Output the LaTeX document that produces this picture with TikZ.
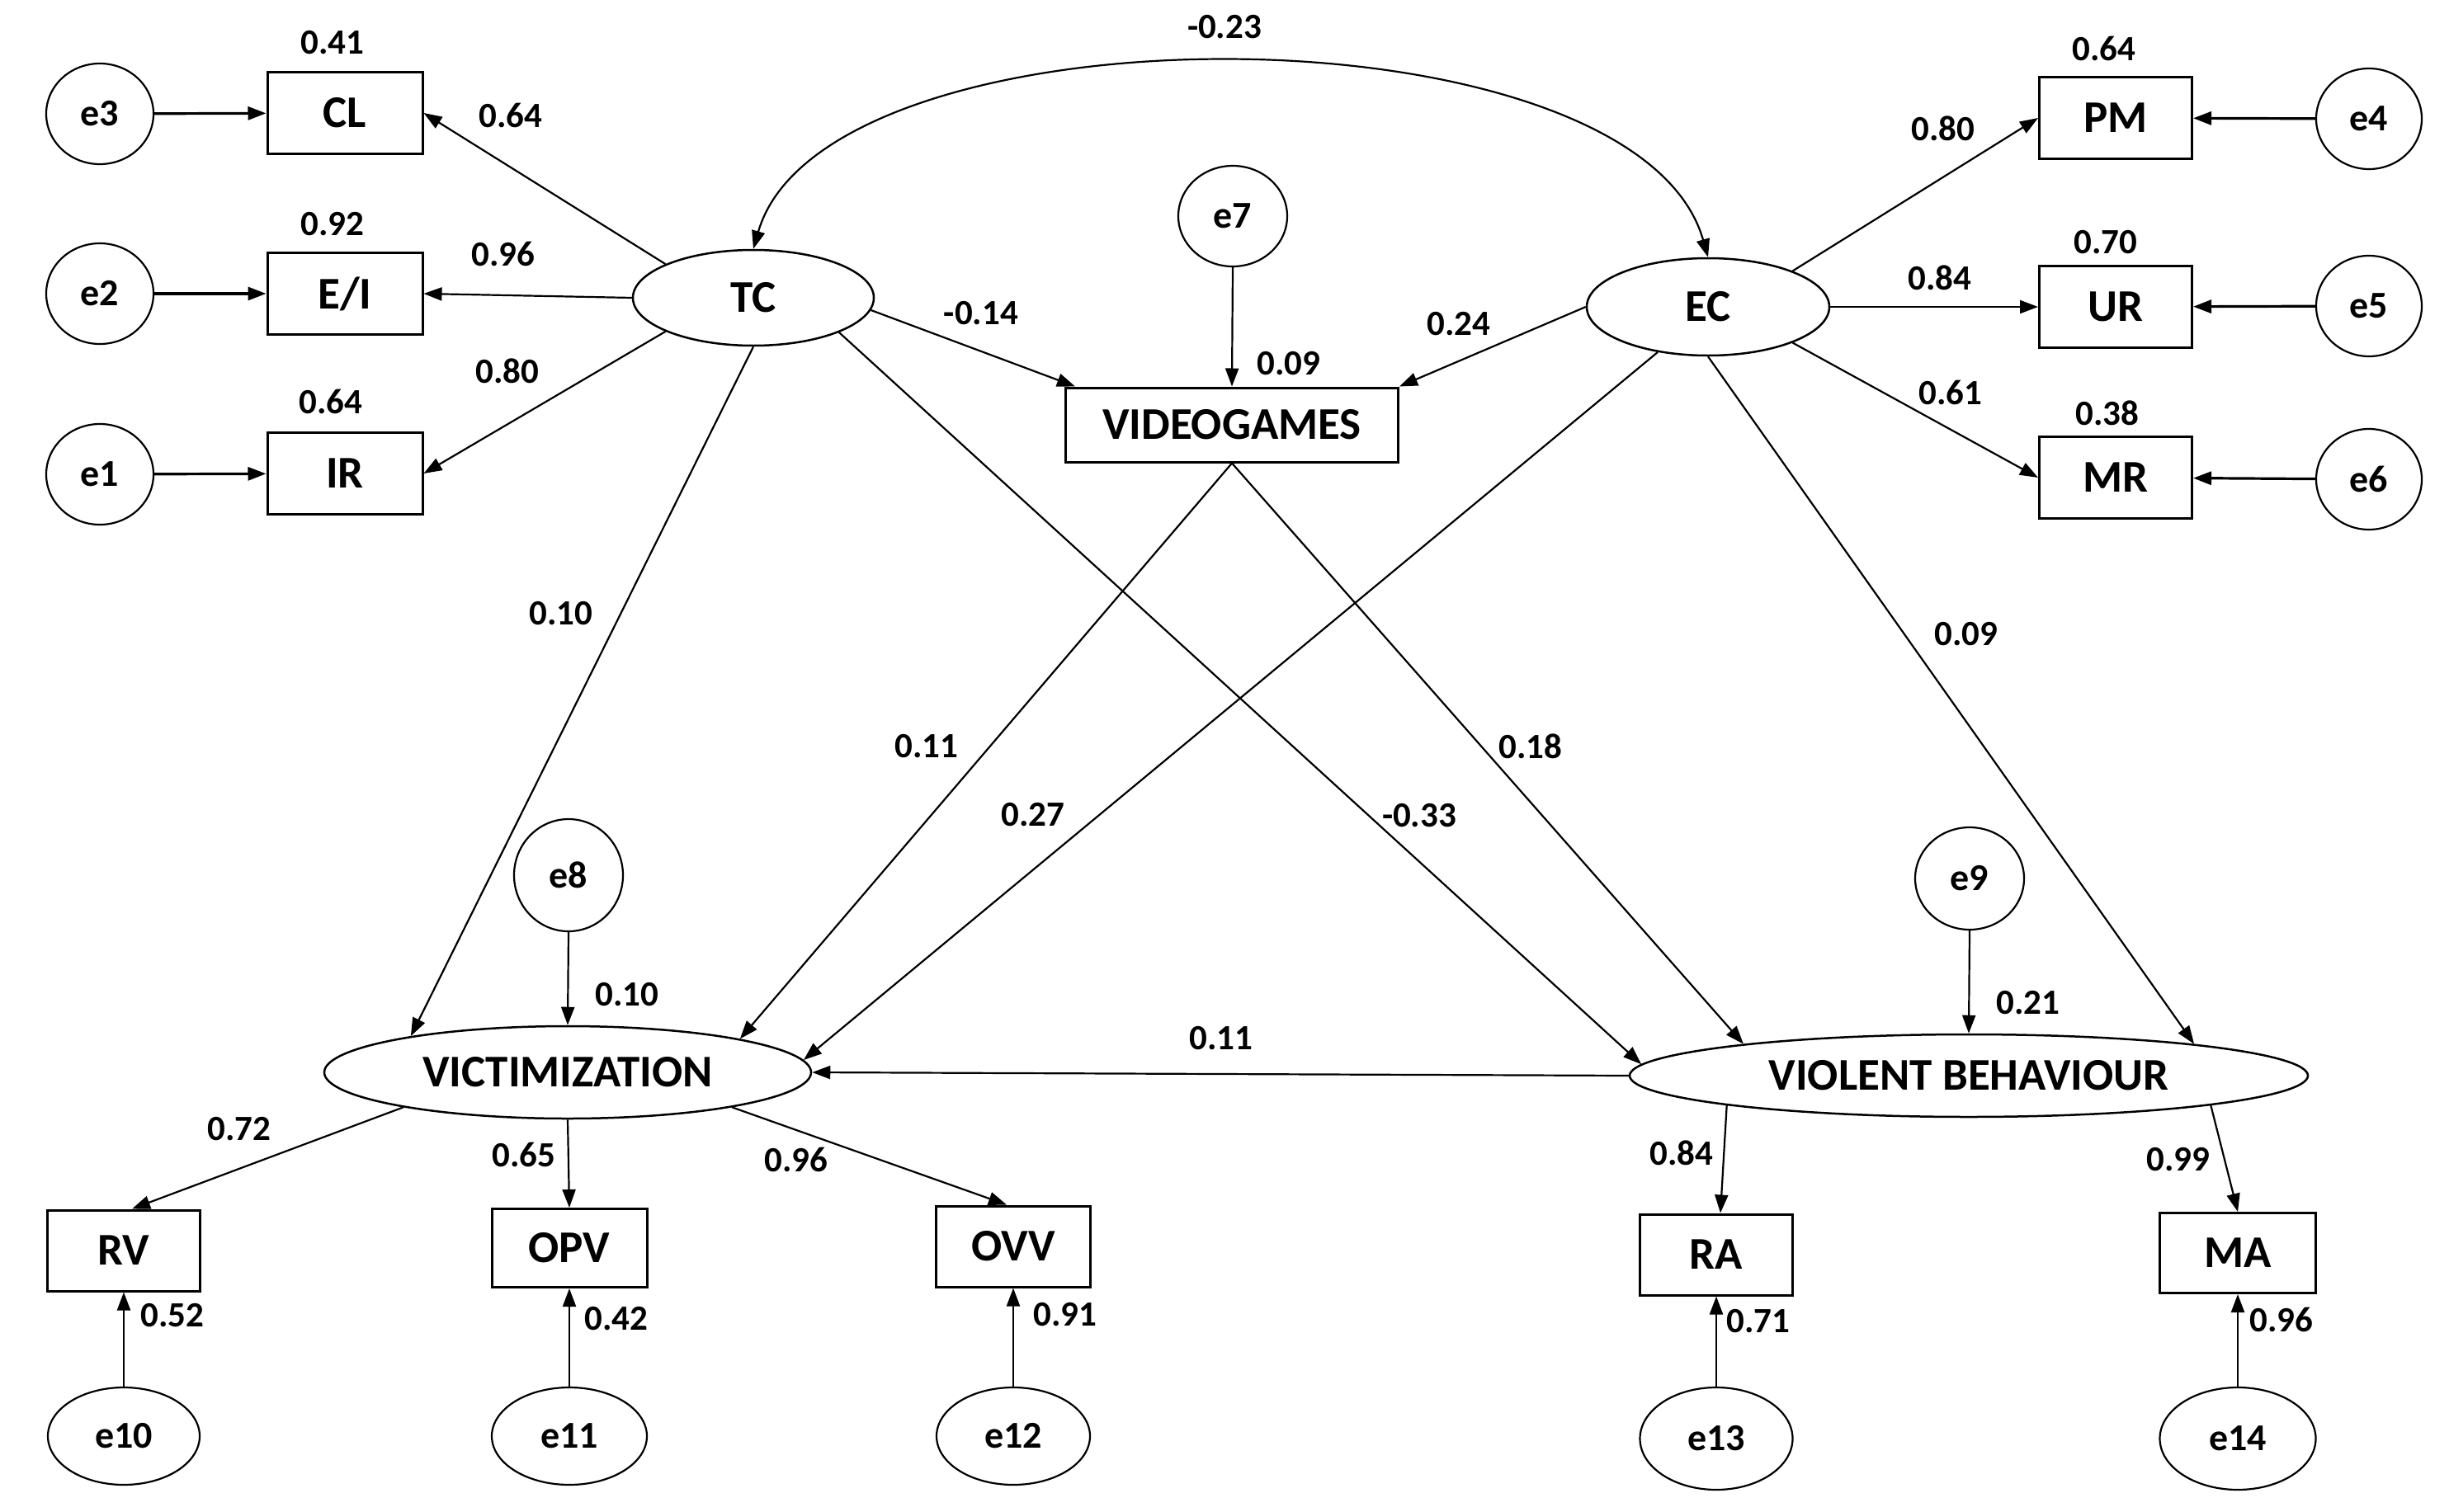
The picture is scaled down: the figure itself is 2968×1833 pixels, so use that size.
\documentclass[tikz,border=0pt]{standalone}
\usepackage{fontspec}
\setmainfont{Carlito}
\usetikzlibrary{arrows.meta,shapes.geometric}
\begin{document}
\begin{tikzpicture}[x=1pt,y=-1pt,
  obs/.style={draw, rectangle, line width=3pt, inner sep=0pt, font=\fontsize{55}{60}\selectfont\bfseries},
  lat/.style={draw, ellipse, line width=2.5pt, inner sep=0pt, font=\fontsize{55}{60}\selectfont\bfseries},
  err/.style={draw, ellipse, line width=2.2pt, inner sep=0pt, font=\fontsize{46}{50}\selectfont\bfseries},
  lbl/.style={inner sep=0pt, font=\fontsize{43}{46}\selectfont\bfseries},
  arr/.style={-{Triangle[length=22pt,width=16pt]}, line width=2.2pt},
  arrthick/.style={-{Triangle[length=22pt,width=16pt]}, line width=3.2pt},
  cov/.style={{Triangle[length=22pt,width=16pt]}-{Triangle[length=22pt,width=16pt]}, line width=2.2pt}
]
\useasboundingbox[fill=white] (0,0) rectangle (2968,1833);

% ---- left indicators of TC
\node[obs, minimum width=188pt, minimum height=99pt] (CL) at (418,137) {CL};
\node[obs, minimum width=188pt, minimum height=99pt] (EI) at (418,356) {E/I};
\node[obs, minimum width=188pt, minimum height=99pt] (IR) at (418,574) {IR};
\node[err, minimum width=130pt, minimum height=122pt] (e3) at (121,138) {e3};
\node[err, minimum width=130pt, minimum height=122pt] (e2) at (121,356) {e2};
\node[err, minimum width=130pt, minimum height=122pt] (e1) at (121,575) {e1};
\node[lat, minimum width=292pt, minimum height=116pt] (TC) at (913,361) {TC};

% ---- right indicators of EC
\node[obs, minimum width=185pt, minimum height=99pt] (PM) at (2564,143) {PM};
\node[obs, minimum width=185pt, minimum height=99pt] (UR) at (2564,372) {UR};
\node[obs, minimum width=185pt, minimum height=99pt] (MR) at (2564,579) {MR};
\node[err, minimum width=128pt, minimum height=122pt] (e4) at (2871,144) {e4};
\node[err, minimum width=128pt, minimum height=122pt] (e5) at (2871,371) {e5};
\node[err, minimum width=128pt, minimum height=122pt] (e6) at (2871,581) {e6};
\node[lat, minimum width=294pt, minimum height=118pt] (EC) at (2070,372) {EC};

% ---- videogames
\node[obs, minimum width=403pt, minimum height=90pt] (VG) at (1493,515) {VIDEOGAMES};
\node[err, minimum width=132pt, minimum height=122pt] (e7) at (1494,262) {e7};

% ---- victimization
\node[lat, minimum width=590pt, minimum height=112pt] (VICT) at (688,1300) {VICTIMIZATION};
\node[err, minimum width=132pt, minimum height=136pt] (e8) at (689,1061) {e8};
\node[obs, minimum width=185pt, minimum height=98pt] (RV) at (150,1516) {RV};
\node[obs, minimum width=188pt, minimum height=95pt] (OPV) at (690,1513) {OPV};
\node[obs, minimum width=187pt, minimum height=98pt] (OVV) at (1228,1511) {OVV};
\node[err, minimum width=184pt, minimum height=118pt] (e10) at (150,1741) {e10};
\node[err, minimum width=188pt, minimum height=118pt] (e11) at (690,1741) {e11};
\node[err, minimum width=186pt, minimum height=118pt] (e12) at (1228,1741) {e12};

% ---- violent behaviour
\node[lat, minimum width=822pt, minimum height=100pt] (VB) at (2386,1304) {VIOLENT BEHAVIOUR};
\node[err, minimum width=132pt, minimum height=124pt] (e9) at (2387,1065) {e9};
\node[obs, minimum width=185pt, minimum height=98pt] (RA) at (2080,1521) {RA};
\node[obs, minimum width=189pt, minimum height=97pt] (MA) at (2712,1519) {MA};
\node[err, minimum width=185pt, minimum height=124pt] (e13) at (2080,1744) {e13};
\node[err, minimum width=189pt, minimum height=124pt] (e14) at (2712,1744) {e14};

% ---- connectors
\draw[arrthick] (e3) -- (CL);
\draw[arrthick] (e2) -- (EI);
\draw[arrthick] (e1) -- (IR);
\draw[arr] (TC.159) -- (CL.east);
\draw[arr] (TC.west) -- (EI.east);
\draw[arr] (TC.201) -- (IR.east);

\draw[arrthick] (e4) -- (PM);
\draw[arrthick] (e5) -- (UR);
\draw[arrthick] (e6) -- (MR);
\draw[arr] (EC.23) -- (PM.west);
\draw[arr] (EC.east) -- (UR.west);
\draw[arr] (EC.-23) -- (MR.west);

\draw[cov] (TC.north) .. controls (1000,0) and (1981,0) .. (EC.north);

\draw[arr] (e7.south) -- (VG.north);
\draw[arr] (TC.-6) -- ([xshift=13pt]VG.north west);
\draw[arr] (EC.west) -- (VG.north east);

\draw[arr] (TC.south) -- (VICT.167);
\draw[arr] (VG.south) -- (VICT.11);
\draw[arr] (EC.222) -- (VICT.3);
\draw[arr] (TC.-22) -- (VB.178);
\draw[arr] (VG.south) -- (VB.172);
\draw[arr] (EC.south) -- (VB.8);
\draw[arr] (VB.west) -- (VICT.east);

\draw[arr] (e8.south) -- (VICT.north);
\draw[arr] (e9.south) -- (VB.north);

\draw[arr] (VICT.192) -- ([xshift=10pt]RV.north);
\draw[arr] (VICT.south) -- (OPV.north);
\draw[arr] (VICT.-12) -- ([xshift=-8pt]OVV.north);
\draw[arr] (VB.187) -- ([xshift=5pt]RA.north);
\draw[arr] (VB.-7) -- (MA.north);

\draw[arr] (e10.north) -- (RV.south);
\draw[arr] (e11.north) -- (OPV.south);
\draw[arr] (e12.north) -- (OVV.south);
\draw[arr] (e13.north) -- (RA.south);
\draw[arr] (e14.north) -- (MA.south);

% ---- labels
\node[lbl] (l1) at (403,52) {0.41};
\node[lbl] (l2) at (619,140) {0.64};
\node[lbl] (l3) at (403,272) {0.92};
\node[lbl] (l4) at (610,308) {0.96};
\node[lbl] (l5) at (615,450) {0.80};
\node[lbl] (l6) at (401,487) {0.64};
\node[lbl] (l7) at (1484,33) {-0.23};
\node[lbl] (l8) at (1189,380) {-0.14};
\node[lbl] (l9) at (1562,441) {0.09};
\node[lbl] (l10) at (1768,393) {0.24};
\node[lbl] (l11) at (2550,59) {0.64};
\node[lbl] (l12) at (2355,156) {0.80};
\node[lbl] (l13) at (2552,294) {0.70};
\node[lbl] (l14) at (2351,337) {0.84};
\node[lbl] (l15) at (2364,476) {0.61};
\node[lbl] (l16) at (2554,501) {0.38};
\node[lbl] (l17) at (680,744) {0.10};
\node[lbl] (l18) at (1123,905) {0.11};
\node[lbl] (l19) at (1252,988) {0.27};
\node[lbl] (l20) at (1720,989) {-0.33};
\node[lbl] (l21) at (1855,905) {0.18};
\node[lbl] (l22) at (2383,769) {0.09};
\node[lbl] (l23) at (760,1206) {0.10};
\node[lbl] (l24) at (2458,1216) {0.21};
\node[lbl] (l25) at (1480,1259) {0.11};
\node[lbl] (l26) at (290,1369) {0.72};
\node[lbl] (l27) at (635,1400) {0.65};
\node[lbl] (l28) at (965,1406) {0.96};
\node[lbl] (l29) at (2038,1398) {0.84};
\node[lbl] (l30) at (2640,1406) {0.99};
\node[lbl] (l31) at (209,1595) {0.52};
\node[lbl] (l32) at (747,1599) {0.42};
\node[lbl] (l33) at (1291,1594) {0.91};
\node[lbl] (l34) at (2131,1602) {0.71};
\node[lbl] (l35) at (2765,1600) {0.96};
\end{tikzpicture}
\end{document}
